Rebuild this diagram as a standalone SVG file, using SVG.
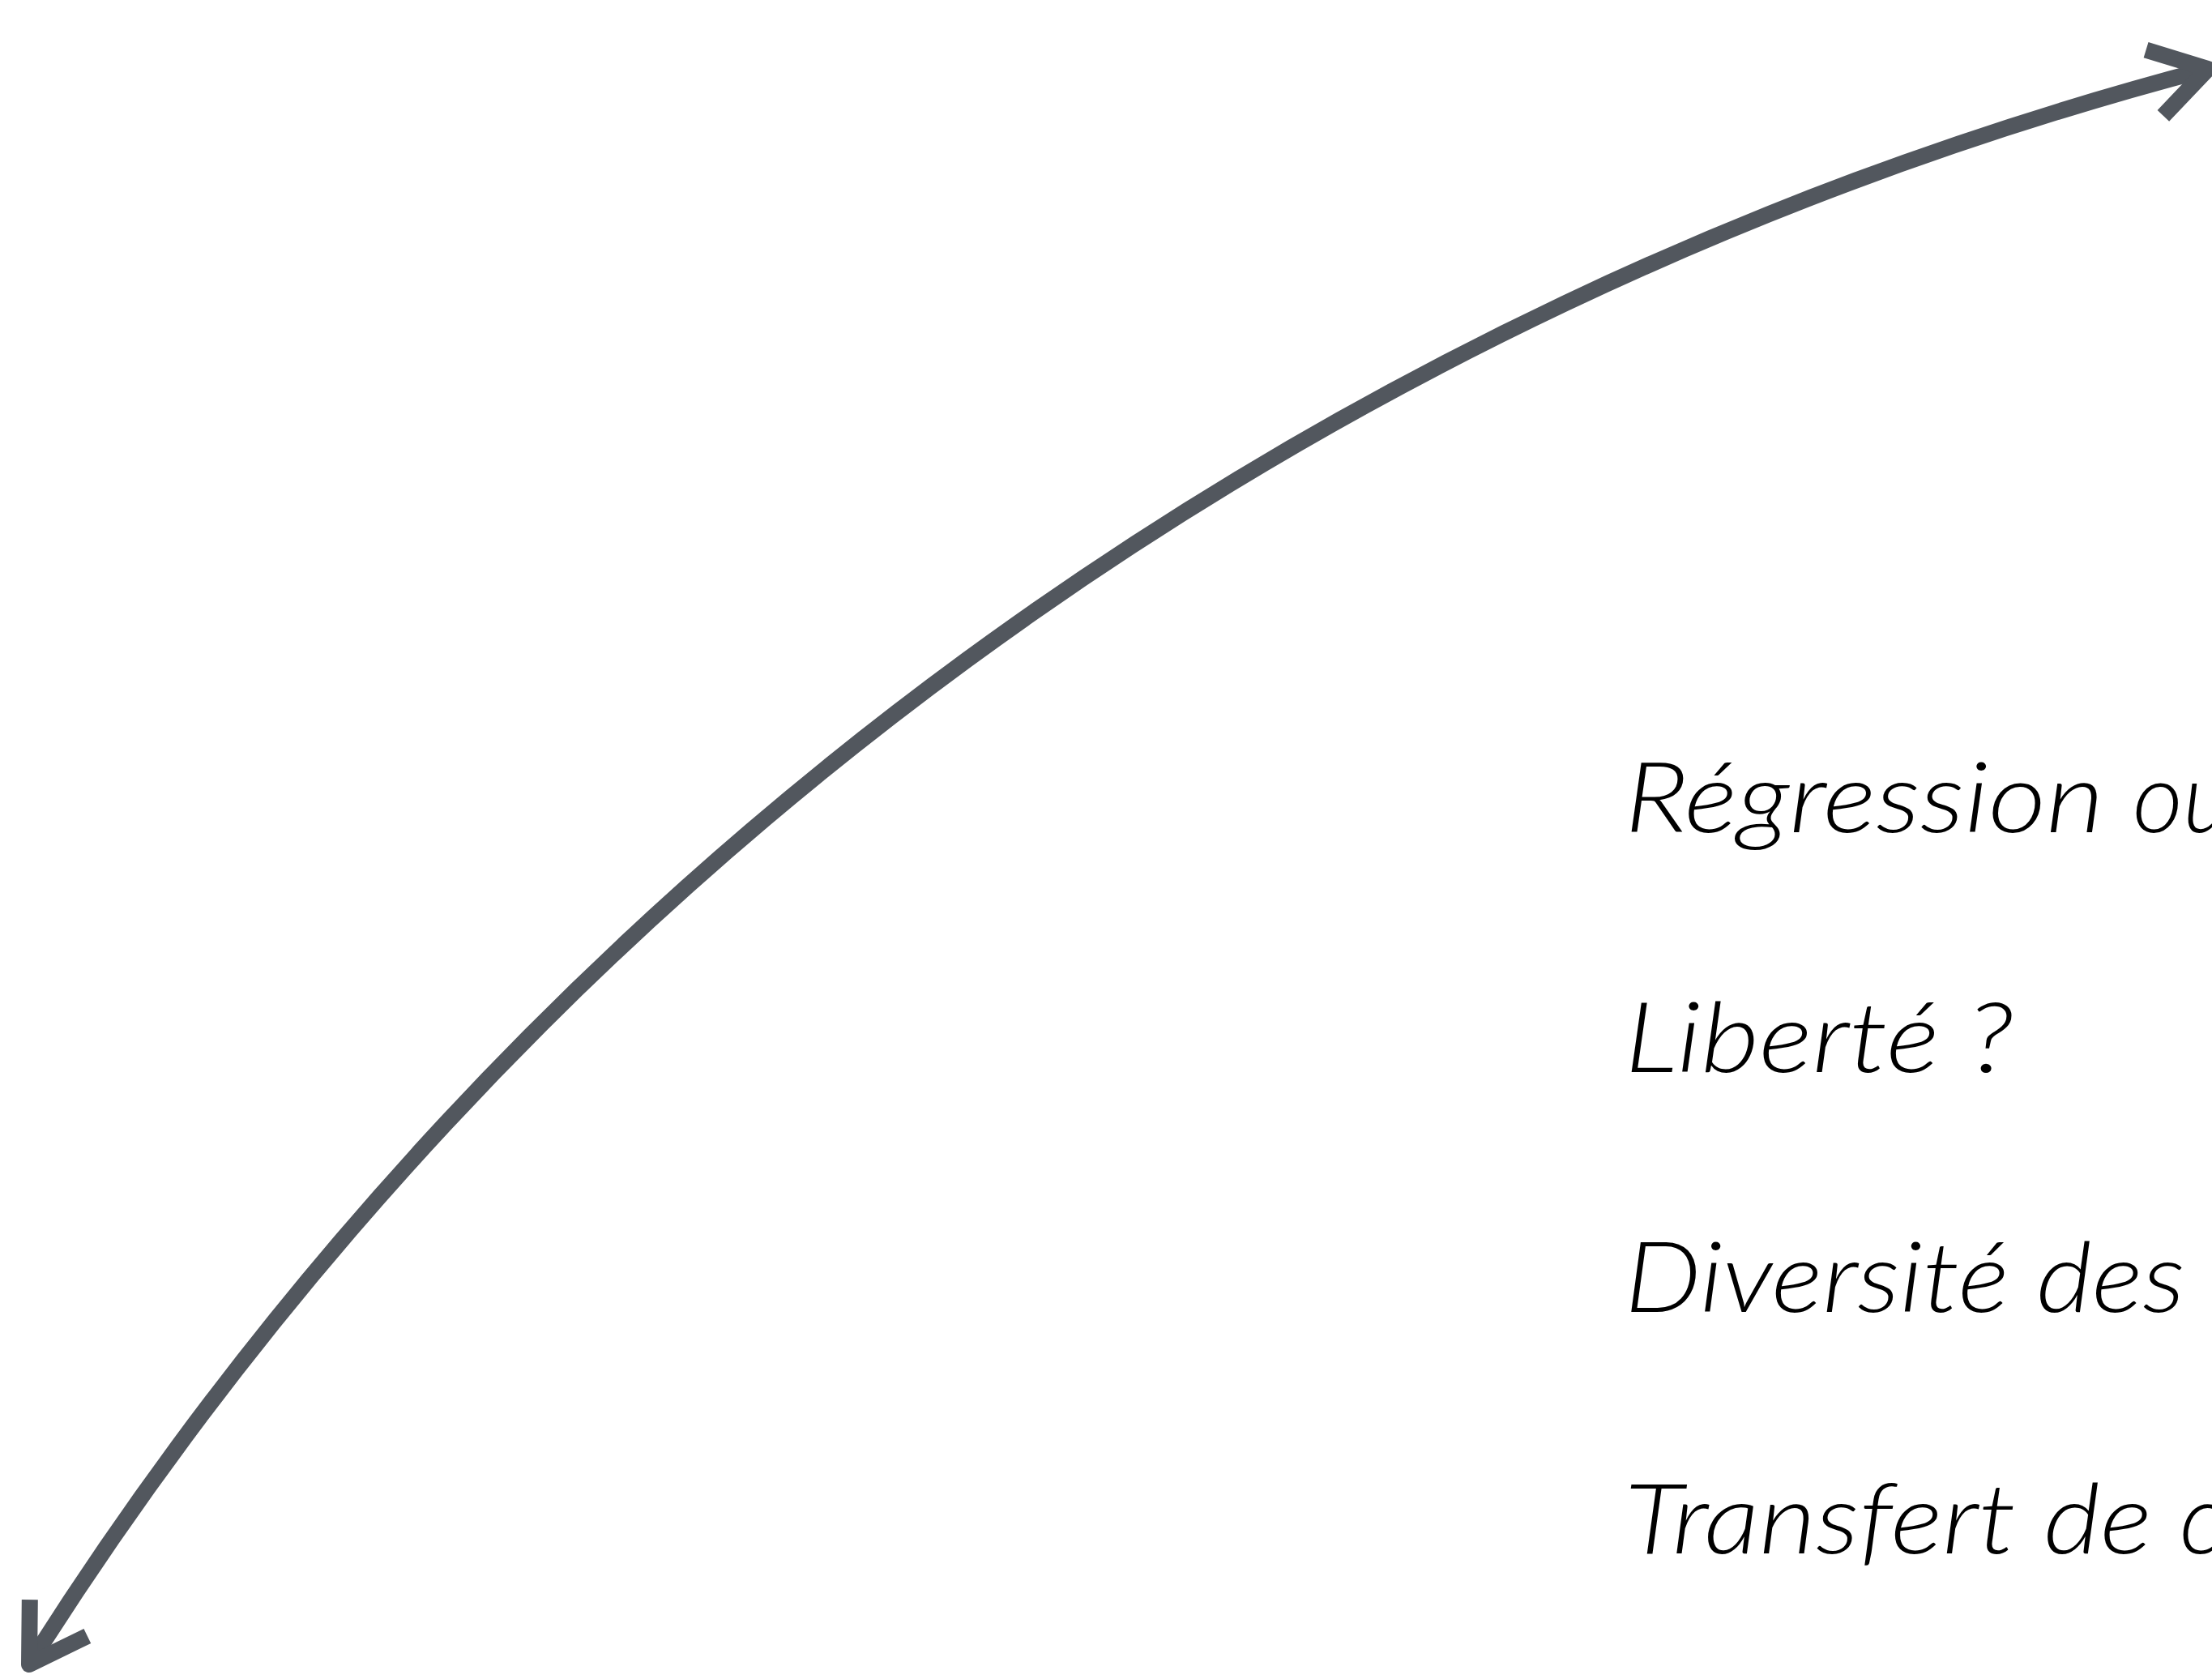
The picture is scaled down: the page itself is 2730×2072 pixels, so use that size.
<svg xmlns="http://www.w3.org/2000/svg" width="2730" height="2072" viewBox="0 0 2730 2072">
  <style>
    .lbl { font-family: Lato, "Liberation Sans", sans-serif; font-weight: 300; font-style: italic; font-size: 121px; fill: #000000; }
    .conn { fill: none; stroke: #52575e; stroke-width: 20; }
  </style>
  <defs>
    <marker id="chev" markerUnits="userSpaceOnUse" viewBox="-100 -60 120 120" refX="0" refY="0" markerWidth="120" markerHeight="120" orient="auto-start-reverse" overflow="visible">
      <path d="M-68,-42 L0,0 L-68,42" fill="none" stroke="#52575e" stroke-width="20" stroke-linejoin="round"/>
    </marker>
  </defs>
  <rect width="2730" height="2072" fill="#ffffff"/>
  <g id="connectors">
    <path class="conn" d="M36,2054 A4545,4545 0 0 1 2725,85" marker-start="url(#chev)" marker-end="url(#chev)"/>
  </g>
  <g id="label-regression"><text class="lbl" x="2005" y="1027"><tspan textLength="627" lengthAdjust="spacingAndGlyphs">Régression </tspan><tspan>ou</tspan></text></g>
  <g id="label-liberte"><text class="lbl" x="2005" y="1323" textLength="480" lengthAdjust="spacingAndGlyphs">Liberté ?</text></g>
  <g id="label-diversite"><text class="lbl" x="2005" y="1619" textLength="692" lengthAdjust="spacingAndGlyphs">Diversité des</text></g>
  <g id="label-transfert"><text class="lbl" x="2005" y="1917"><tspan textLength="685" lengthAdjust="spacingAndGlyphs">Transfert de </tspan><tspan>c</tspan></text></g>
</svg>
